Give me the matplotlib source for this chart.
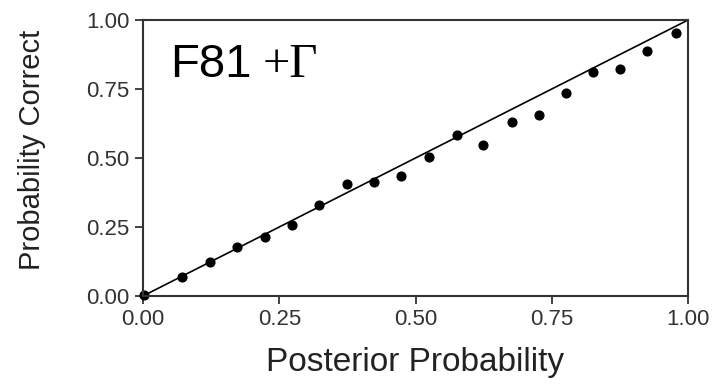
import matplotlib
matplotlib.use("Agg")
import matplotlib.pyplot as plt

# posterior probability bins and observed fraction correct
posterior = [0.002, 0.071, 0.123, 0.173, 0.224, 0.274, 0.323, 0.375, 0.423, 0.473,
             0.524, 0.576, 0.623, 0.677, 0.726, 0.776, 0.826, 0.876, 0.925, 0.978]
correct = [0.005, 0.070, 0.122, 0.178, 0.213, 0.256, 0.329, 0.405, 0.413, 0.436,
           0.503, 0.584, 0.546, 0.629, 0.656, 0.736, 0.812, 0.822, 0.888, 0.954]
ticks = [0.0, 0.25, 0.5, 0.75, 1.0]
tick_labels = ["0.00", "0.25", "0.50", "0.75", "1.00"]

plt.rcParams['font.family'] = ['Liberation Sans', 'DejaVu Sans']

fig = plt.figure(figsize=(7.2, 3.86), dpi=100)
ax = fig.add_axes([0.1986, 0.2332, 0.757, 0.715])

# reference diagonal and data points
ax.plot([0, 1], [0, 1], color='black', lw=1.2, clip_on=False)
ax.plot(posterior, correct, 'o', color='black', ms=6.3, clip_on=False)

ax.set_xlim(0, 1)
ax.set_ylim(0, 1)
ax.set_xticks(ticks)
ax.set_xticklabels(tick_labels)
ax.set_yticks(ticks)
ax.set_yticklabels(tick_labels)
ax.tick_params(direction='out', length=6, width=1.3, pad=3.5,
               labelsize=16, colors='#333333')

for s in ax.spines.values():
    s.set_linewidth(1.5)
    s.set_color('#333333')

ax.set_xlabel('Posterior Probability', fontsize=24, color='#222222', labelpad=12)
ax.set_ylabel('Probability Correct', fontsize=21, color='#222222')
ax.yaxis.set_label_coords(-0.178, 0.53)

# model label: "F81" in sans, "+Γ" in serif placed right after it
t = ax.text(0.05, 0.795, 'F81', transform=ax.transAxes, fontsize=34,
            color='black', va='baseline', ha='left')
fig.canvas.draw()
bb = t.get_window_extent()
x_end = ax.transAxes.inverted().transform((bb.x1, bb.y0))[0]
ax.text(x_end + 0.02, 0.795, '+\u0393', transform=ax.transAxes, fontsize=35,
        family=['Liberation Serif', 'DejaVu Serif'], color='black',
        va='baseline', ha='left')

fig.savefig('out.png', dpi=100)
